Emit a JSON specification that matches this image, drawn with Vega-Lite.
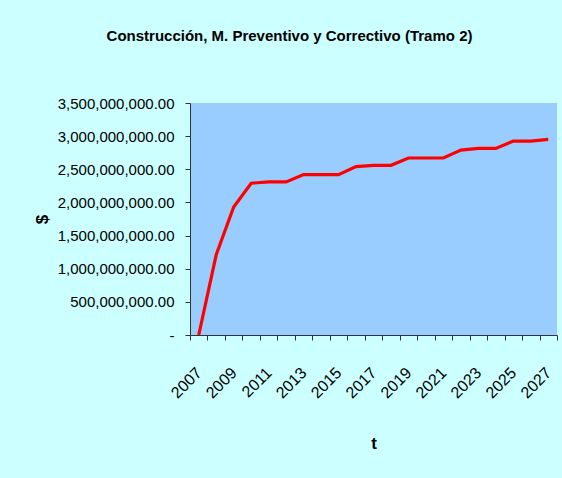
{
  "$schema": "https://vega.github.io/schema/vega-lite/v6.json",
  "width": 367,
  "height": 232,
  "autosize": {"type": "none"},
  "padding": {"left": 190, "top": 103, "right": 5, "bottom": 143},
  "background": "#CCFFFF",
  "title": {
    "text": "Construcción, M. Preventivo y Correctivo (Tramo 2)",
    "font": "Liberation Sans",
    "fontSize": 15,
    "fontWeight": "bold",
    "color": "#000000",
    "anchor": "middle",
    "baseline": "alphabetic",
    "offset": 40,
    "dx": -84
  },
  "data": {
    "values": [
      {"t": 2007, "v": 0},
      {"t": 2008, "v": 1210000000},
      {"t": 2009, "v": 1930000000},
      {"t": 2010, "v": 2290000000},
      {"t": 2011, "v": 2310000000},
      {"t": 2012, "v": 2310000000},
      {"t": 2013, "v": 2420000000},
      {"t": 2014, "v": 2420000000},
      {"t": 2015, "v": 2420000000},
      {"t": 2016, "v": 2540000000},
      {"t": 2017, "v": 2560000000},
      {"t": 2018, "v": 2560000000},
      {"t": 2019, "v": 2670000000},
      {"t": 2020, "v": 2670000000},
      {"t": 2021, "v": 2670000000},
      {"t": 2022, "v": 2790000000},
      {"t": 2023, "v": 2815000000},
      {"t": 2024, "v": 2815000000},
      {"t": 2025, "v": 2925000000},
      {"t": 2026, "v": 2925000000},
      {"t": 2027, "v": 2950000000}
    ]
  },
  "mark": {"type": "line", "color": "#FF0000", "strokeWidth": 3.2},
  "encoding": {
    "x": {
      "field": "t",
      "type": "ordinal",
      "bandPosition": 0.5,
      "scale": {"type": "band", "paddingInner": 0, "paddingOuter": 0},
      "title": "t",
      "axis": {
        "tickBand": "extent",
        "labelExpr": "datum.value % 2 == 1 ? datum.value : ''",
        "labelAngle": -45,
        "labelAlign": "right",
        "labelBaseline": "middle",
        "labelPadding": 30,
        "labelFont": "Liberation Sans",
        "labelFontSize": 16,
        "labelColor": "#000000",
        "labelOverlap": false,
        "domainColor": "#333333",
        "tickColor": "#333333",
        "tickSize": 5,
        "titleFont": "Liberation Sans",
        "titleFontSize": 17,
        "titleFontWeight": "bold",
        "titleColor": "#000000",
        "titleBaseline": "alphabetic",
        "titleY": 113
      }
    },
    "y": {
      "field": "v",
      "type": "quantitative",
      "scale": {"domain": [0, 3500000000], "nice": false},
      "title": "$",
      "axis": {
        "values": [0, 500000000, 1000000000, 1500000000, 2000000000, 2500000000, 3000000000, 3500000000],
        "labelExpr": "datum.value == 0 ? '-' : format(datum.value, ',.2f')",
        "labelFont": "Liberation Sans",
        "labelFontSize": 15,
        "labelColor": "#000000",
        "labelPadding": 11,
        "domainColor": "#333333",
        "tickColor": "#333333",
        "tickSize": 5,
        "grid": false,
        "titleFont": "Liberation Sans",
        "titleFontSize": 17,
        "titleFontWeight": "bold",
        "titleColor": "#000000",
        "titleBaseline": "middle",
        "titleX": -148,
        "titleAngle": -90
      }
    }
  },
  "config": {
    "view": {"fill": "#99CCFF", "stroke": null}
  }
}
